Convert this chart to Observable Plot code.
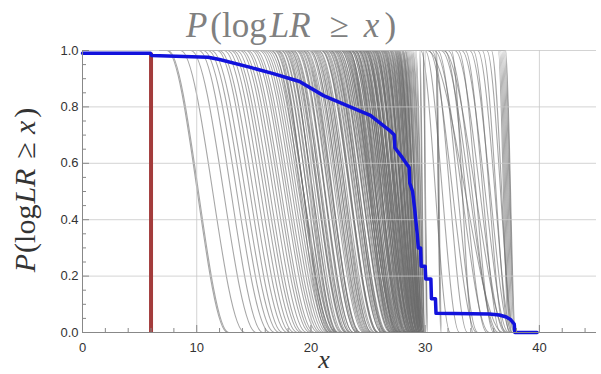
<!DOCTYPE html>
<html><head><meta charset="utf-8">
<script src="https://cdn.jsdelivr.net/npm/d3@7"></script>
<script src="https://cdn.jsdelivr.net/npm/@observablehq/plot@0.6"></script>
<style>body{margin:0;background:#fff}</style>
</head><body><div id="chart"></div>
<script>
// Gray survival curves: x where each curve leaves 1 and x where it reaches 0
const grayStart = [
  7.4,7.5,8.6,9.5,10.2,10.6,11.0,11.3,11.8,12.0,12.4,12.7,13.0,13.2,13.5,13.8,14.0,14.3,14.5,14.8,15.0,15.2,15.5,15.7,15.9,16.1,16.3,16.5,
  16.6,16.8,16.9,17.1,17.2,17.4,17.6,17.7,17.9,18.0,18.2,18.3,18.5,18.7,18.8,19.0,19.1,19.3,19.4,19.6,19.8,19.9,20.1,20.2,20.4,20.5,20.7,20.9,21.0,21.2,21.3,21.5,21.6,21.8,22.0,22.1,22.3,22.4,22.6,22.7,
  22.8,22.95,23.0,23.15,23.2,23.3,23.45,23.5,23.6,23.75,23.8,23.9,24.05,24.1,24.2,24.3,24.45,24.5,24.6,24.7,24.85,24.9,25.0,25.1,25.25,25.3,25.4,25.5,25.65,25.7,25.8,25.9,26.05,26.1,26.2,26.3,26.45,26.5,26.6,26.7,26.85,26.9,27.0,27.1,27.25,27.3,27.4,27.5,27.65,27.7,27.8,27.9,28.0,28.2,28.4,28.6,28.8,29.0,29.2,
  23.35,23.65,23.95,24.25,24.55,24.75,24.95,25.15,25.35,25.55,25.75,25.95,26.15,26.35,26.55,26.75,26.95,27.15,27.35,27.55,27.75,27.95,28.1,28.3,28.5,28.7,28.9,29.1,21.7,22.25,
  17.05,17.45,17.85,18.15,18.45,18.9,19.25,19.55,19.95,20.3,20.65,20.95,21.15,21.45,21.75,21.95,22.15,22.45,22.65,22.85,23.05,23.25,23.55,23.85,24.15,24.35,24.65,24.8,25.05,25.45,25.6,25.85,26.25,26.4,26.65,27.05,27.45,27.6,28.05,28.25,
  29.5,29.55,29.8,29.85,29.8,30.9,30.95,31.0,
  29.6,30.0,30.3,30.6,30.8,31.1,31.4,31.7,32.0,32.3,32.6,32.9,33.2,33.5,33.9,34.2,34.6,35.0,35.4,35.8,31.6,30.2,
  36.5,36.6,36.7,36.8,36.9,37.0,37.05,36.4
];
const grayEnd = [
  12.7,12.8,14.2,15.2,15.8,16.4,16.8,17.2,17.5,17.9,18.2,18.5,18.8,19.1,19.3,19.6,19.9,20.1,20.3,20.6,20.8,21.0,21.2,21.4,21.6,21.8,22.0,22.2,
  21.5,21.9,21.8,22.2,22.1,22.3,22.7,22.6,22.8,23.1,23.1,23.4,23.4,23.7,23.7,24.0,24.0,24.3,24.3,24.6,24.7,24.9,25.0,25.2,25.3,25.5,25.6,25.9,25.9,26.2,26.2,26.4,26.6,26.7,27.0,27.0,27.2,27.4,27.5,27.7,
  27.4,27.3,27.6,27.5,27.7,27.6,27.9,27.8,28.0,27.9,28.1,28.2,28.0,28.3,28.2,28.4,28.3,28.5,28.4,28.6,28.5,28.7,28.6,28.8,28.7,28.9,28.8,29.0,28.9,29.0,29.1,29.0,29.2,29.1,29.2,29.3,29.2,29.3,29.4,29.3,29.4,29.5,29.4,29.5,29.5,29.6,29.5,29.6,29.7,29.6,29.7,29.7,29.8,29.7,29.8,29.8,29.9,29.9,30.0,
  27.0,27.7,27.4,28.1,27.9,28.6,28.2,28.9,28.5,29.1,28.7,29.2,29.0,29.4,29.1,29.5,29.3,29.6,29.5,29.7,29.6,29.8,29.7,29.9,29.8,29.9,29.95,30.0,26.5,27.1,
  21.6,22.4,22.3,23.0,23.2,23.5,24.1,24.2,24.8,25.1,25.3,25.8,25.8,26.3,26.5,26.6,26.9,27.3,27.2,27.6,27.8,27.9,28.3,28.4,28.7,28.8,29.0,28.9,29.1,29.3,29.2,29.4,29.5,29.4,29.6,29.6,29.7,29.8,29.8,29.9,
  29.9,29.95,30.2,30.15,30.25,31.4,31.35,31.45,
  32.2,33.0,34.5,33.7,35.6,34.6,36.4,35.4,36.2,34.2,37.0,36.0,37.3,36.6,37.5,37.0,37.6,37.4,37.8,37.6,37.2,36.8,
  37.4,37.5,37.6,37.7,37.8,37.85,37.9,37.3
];
const grayFirstX = 6.8;

// Blue pooled curve
const blueX = [0,5.95,6.05,11.0,12.0,14.7,16.7,18.2,19.0,21.1,24.0,25.2,26.9,27.3,27.35,28.0,28.6,28.65,28.9,29.1,29.3,29.4,29.6,29.65,30.0,30.05,30.5,30.55,30.9,30.95,35.6,36.5,37.1,37.5,37.8,37.85,39.8];
const blueY = [0.99,0.99,0.982,0.976,0.968,0.94,0.918,0.90,0.89,0.84,0.79,0.77,0.716,0.70,0.655,0.62,0.585,0.53,0.50,0.43,0.35,0.30,0.30,0.235,0.235,0.19,0.19,0.12,0.12,0.068,0.066,0.062,0.055,0.045,0.03,0,0];

const thresholdX = [6];
const xMajorTicks = [0,10,20,30,40];
const xMinorTicks = [2,4,6,8,12,14,16,18,22,24,26,28,32,34,36,38,42,44];
const yMajorTicks = [0,0.2,0.4,0.6,0.8,1.0];
const yMinorTicks = [0.05,0.1,0.15,0.25,0.3,0.35,0.45,0.5,0.55,0.65,0.7,0.75,0.85,0.9,0.95];
const xGrid = [10,20,30,40];
const yGrid = [0.2,0.4,0.6,0.8,1.0];

const grayRows = grayStart.flatMap((s, i) => [
  {id: i, x: grayFirstX, y: 1},
  {id: i, x: s, y: 1},
  {id: i, x: grayEnd[i], y: 0},
  {id: i, x: grayEnd[i] + 0.05, y: 0}
]);
const blueRows = blueX.map((x, i) => ({x, y: blueY[i]}));

const plot = Plot.plot({
  width: 601, height: 374,
  marginLeft: 82, marginRight: 5, marginTop: 50, marginBottom: 42,
  x: {domain: [0, 45], label: null},
  y: {domain: [0, 1], label: null},
  style: {fontFamily: "'Liberation Sans', Arial, sans-serif", fontSize: "13px", color: "#333", background: "#fff"},
  marks: [
    Plot.line(grayRows, {x: "x", y: "y", z: "id", curve: "monotone-x", stroke: "#6a6a6a", strokeOpacity: 0.6, strokeWidth: 1.1}),
    Plot.gridX(xGrid, {stroke: "#c8c8c8", strokeOpacity: 0.8}),
    Plot.gridY(yGrid, {stroke: "#c8c8c8", strokeOpacity: 0.8}),
    Plot.ruleX(thresholdX, {y1: 0, y2: 0.99, stroke: "#a33c3c", strokeWidth: 4}),
    Plot.line(blueRows, {x: "x", y: "y", stroke: "#1212dc", strokeWidth: 3.5}),
    Plot.ruleY([0], {stroke: "#888"}),
    Plot.ruleX([0], {stroke: "#888"}),
    Plot.axisX(xMinorTicks, {tickSize: -4, tickFormat: () => "", stroke: "#888", label: null}),
    Plot.axisX(xMajorTicks, {tickSize: -7, tickFormat: () => "", stroke: "#888", label: null}),
    Plot.axisX(xMajorTicks, {tickSize: 0, tickPadding: 10, label: null, fill: "#333"}),
    Plot.axisY(yMinorTicks, {tickSize: -4, tickFormat: () => "", stroke: "#888", label: null}),
    Plot.axisY(yMajorTicks, {tickSize: -7, tickFormat: () => "", stroke: "#888", label: null}),
    Plot.axisY(yMajorTicks, {tickSize: 0, tickPadding: 4, label: null, tickFormat: d3.format(".1f"), fill: "#333"})
  ]
});
document.getElementById("chart").appendChild(plot);

const svg = d3.select(plot);
function mathText(sel, gapP, gapLR, gapLe, gapX, gapParen) {
  sel.append("tspan").attr("font-style", "italic").text("P");
  sel.append("tspan").attr("dx", gapP).text("(log");
  sel.append("tspan").attr("dx", gapLR).attr("font-style", "italic").text("LR");
  sel.append("tspan").attr("dx", gapLe).text("≥");
  sel.append("tspan").attr("dx", gapX).attr("font-style", "italic").text("x");
  sel.append("tspan").attr("dx", gapParen).text(")");
}
const title = svg.append("text")
  .attr("x", 291).attr("y", 37)
  .attr("text-anchor", "middle")
  .attr("font-family", "'Liberation Serif', 'DejaVu Serif', serif")
  .attr("font-size", 35).attr("fill", "#808080");
mathText(title, 3, 3, 19, 15, 5);

const ylab = svg.append("text")
  .attr("transform", "translate(35,190) rotate(-90)")
  .attr("text-anchor", "middle")
  .attr("font-family", "'Liberation Serif', 'DejaVu Serif', serif")
  .attr("font-size", 30).attr("fill", "#333");
mathText(ylab, 1, 1, 10, 8, 3);

svg.append("text")
  .attr("x", 324).attr("y", 368)
  .attr("text-anchor", "middle")
  .attr("font-family", "'Liberation Serif', 'DejaVu Serif', serif")
  .attr("font-style", "italic")
  .attr("font-size", 26).attr("fill", "#333")
  .text("x");
</script>
</body></html>
